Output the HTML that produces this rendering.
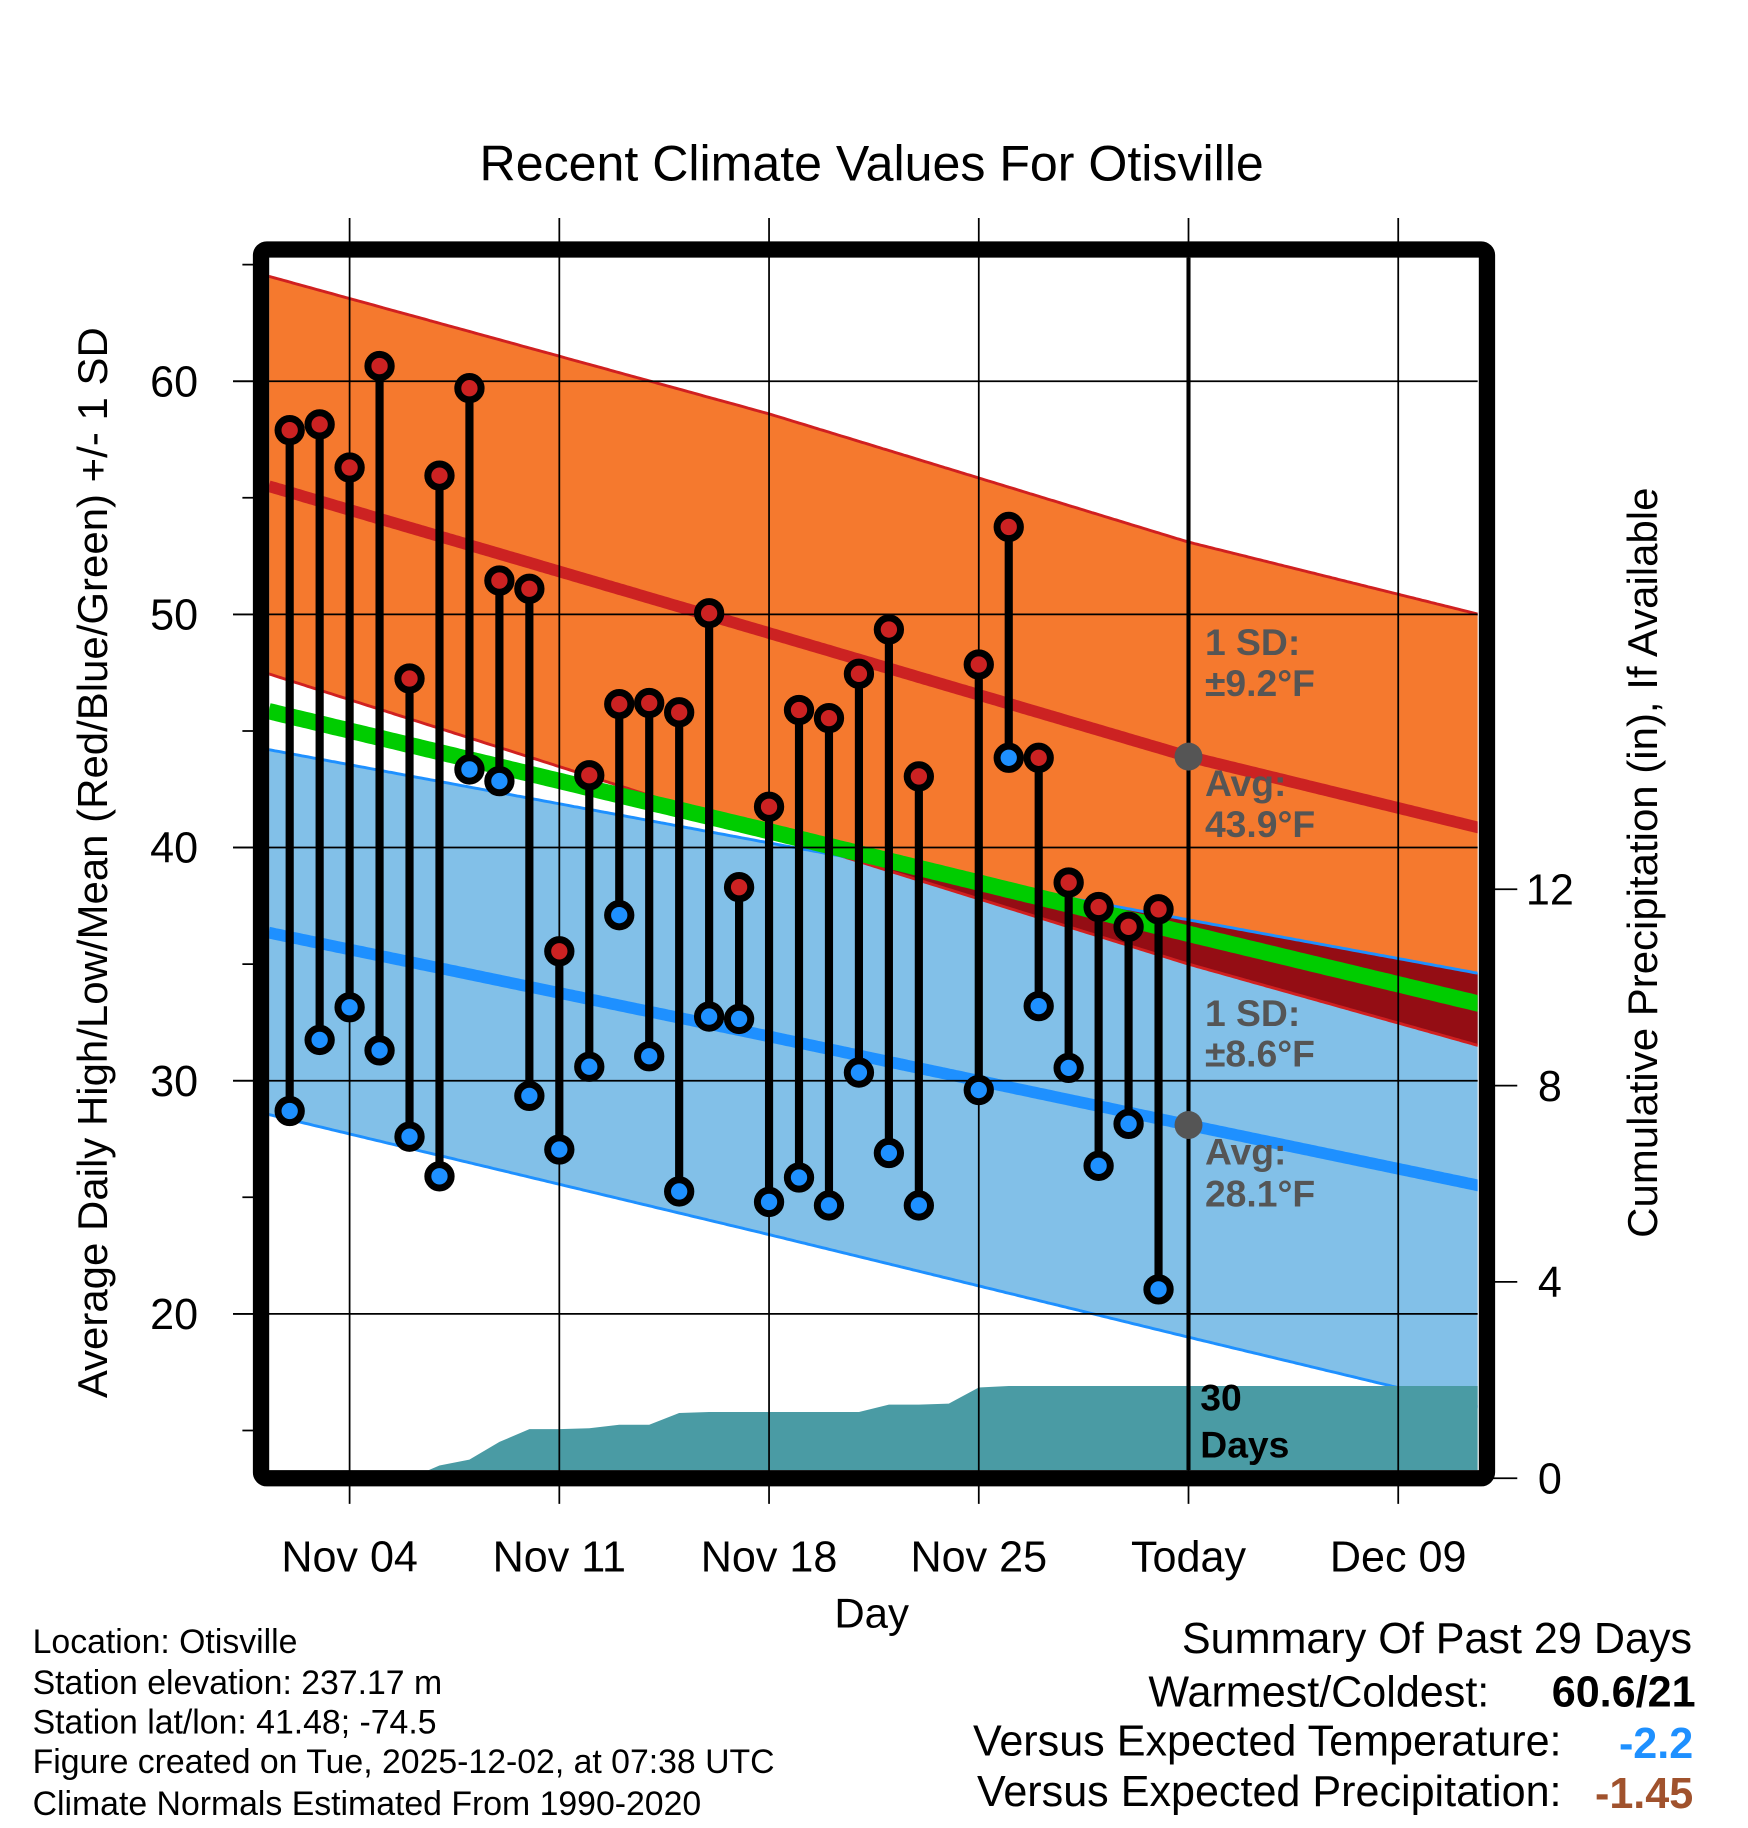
<!DOCTYPE html>
<html><head><meta charset="utf-8"><style>html,body{margin:0;padding:0;background:#fff}svg{display:block}text{font-family:"Liberation Sans",sans-serif}</style></head>
<body>
<svg id="chart" xmlns="http://www.w3.org/2000/svg" width="1748" height="1828" viewBox="0 0 1500 1568" preserveAspectRatio="none">
<defs><clipPath id="pc"><rect x="231" y="221" width="1037" height="1040"/></clipPath></defs>
<text x="748" y="155" font-size="43" text-anchor="middle">Recent Climate Values For Otisville</text>
<g id="plot" clip-path="url(#pc)"></g>
<g id="overlay"></g>
<rect x="224" y="214" width="1052" height="1054" rx="5" fill="none" stroke="#000" stroke-width="14"/>
<g id="axes"></g>
<text transform="translate(92,740) rotate(-90)" font-size="36" text-anchor="middle">Average Daily High/Low/Mean (Red/Blue/Green) +/- 1 SD</text>
<text transform="translate(1422,740) rotate(-90)" font-size="36" text-anchor="middle">Cumulative Precipitation (in), If Available</text>
<text x="748" y="1396" font-size="36" text-anchor="middle">Day</text>
<g font-size="29">
<text x="28" y="1418">Location: Otisville</text>
<text x="28" y="1453">Station elevation: 237.17 m</text>
<text x="28" y="1487">Station lat/lon: 41.48; -74.5</text>
<text x="28" y="1521">Figure created on Tue, 2025-12-02, at 07:38 UTC</text>
<text x="28" y="1557">Climate Normals Estimated From 1990-2020</text>
</g>
<g font-size="37">
<text x="1452" y="1418" text-anchor="end">Summary Of Past 29 Days</text>
<text x="1278" y="1464" text-anchor="end">Warmest/Coldest:</text>
<text x="1455" y="1464" text-anchor="end" font-weight="bold">60.6/21</text>
<text x="1340" y="1506" text-anchor="end">Versus Expected Temperature:</text>
<text x="1453" y="1508" text-anchor="end" font-weight="bold" fill="#1e90ff">-2.2</text>
<text x="1340" y="1549" text-anchor="end">Versus Expected Precipitation:</text>
<text x="1453" y="1551" text-anchor="end" font-weight="bold" fill="#a0522d">-1.45</text>
</g>
</svg>
<script>
const dayLabels=["Nov 04","Nov 11","Nov 18","Nov 25","Today","Dec 09"];
const labelDays=[0,7,14,21,28,35];
const tempTicks=[20,30,40,50,60];
const minorTicks=[15,25,35,45,55,65];
const precipTicks=[0,4,8,12];
const obsDays=[-2,-1,0,1,2,3,4,5,6,7,8,9,10,11,12,13,14,15,16,17,18,19,21,22,23,24,25,26,27];
const highs=[57.9,58.15,56.3,60.65,47.25,55.95,59.7,51.45,51.1,35.55,43.1,46.15,46.2,45.8,50.05,38.3,41.75,45.9,45.55,47.45,49.35,43.05,47.85,53.75,43.85,38.5,37.45,36.6,37.35];
const lows=[28.7,31.75,33.15,31.3,27.6,25.9,43.35,42.85,29.35,27.05,30.6,37.1,31.05,25.25,32.75,32.65,24.8,25.85,24.65,30.35,26.9,24.65,29.6,43.85,33.2,30.55,26.35,28.15,21.05];
const normDays=[-2.7,14,28,37.7];
const highUpper=[64.5,58.6,53.1,50.0];
const highMean=[55.5,49.2,43.9,40.85];
const highLower=[47.45,40.6,35.0,31.5];
const meanT=[45.85,40.7,36.3,33.3];
const lowUpper=[44.2,40.2,36.9,34.6];
const lowMean=[36.35,31.9,28.1,25.5];
const lowLower=[28.55,23.4,19.0,16.0];
const precipDays=[-2.7,-2,-1,0,1,2,3,4,5,6,7,8,9,10,11,12,13,14,15,16,17,18,19,20,21,22,23,24,25,26,27,37.7];
const precip=[0,0,0,0,0,0,0.26,0.38,0.74,1.0,1.0,1.02,1.09,1.09,1.33,1.35,1.35,1.35,1.35,1.35,1.35,1.5,1.5,1.52,1.85,1.88,1.88,1.88,1.88,1.88,1.88,1.88];
const todayDay=28;

const NS="http://www.w3.org/2000/svg";
const X=d=>300+d*25.71;
const Y=v=>1527-20*v;
const YP=p=>1268-42.1*p;
function mk(parent,tag,attrs){const e=document.createElementNS(NS,tag);for(const k in attrs)e.setAttribute(k,attrs[k]);parent.appendChild(e);return e;}
function interp(arr,d){for(let i=0;i<normDays.length-1;i++){if(d<=normDays[i+1]||i==normDays.length-2){const t=(d-normDays[i])/(normDays[i+1]-normDays[i]);return arr[i]+t*(arr[i+1]-arr[i]);}}}
const samp=[];for(let d=-2.7;d<=37.71;d+=0.1)samp.push(d);
const line=arr=>samp.map(d=>X(d).toFixed(1)+","+Y(interp(arr,d)).toFixed(1));
function band(a,b){return line(a).concat(line(b).reverse()).join(" ");}
const plot=document.getElementById('plot');
let e;
e=mk(plot,'polygon',{points:band(highUpper,highLower),fill:'#f5792e'});


e=mk(plot,'polygon',{points:band(lowUpper,lowLower),fill:'#82c0e8'});


const ovTop=[],ovBot=[];
samp.forEach(d=>{const lu=interp(lowUpper,d),hl=interp(highLower,d);const b=Math.min(lu,hl);ovTop.push(X(d).toFixed(1)+","+Y(lu).toFixed(1));ovBot.push(X(d).toFixed(1)+","+Y(b).toFixed(1));});
e=mk(plot,'polygon',{points:ovTop.concat(ovBot.reverse()).join(" "),fill:'#940d14'});


function pl(arr,col,w,name){const p=mk(plot,'polyline',{points:line(arr).join(" "),fill:'none',stroke:col,'stroke-width':w});}
pl(highUpper,'#d02020',2.5,'high-upper-sd-line');
pl(highLower,'#d02020',2.5,'high-lower-sd-line');
pl(lowUpper,'#1e90ff',2.5,'low-upper-sd-line');
pl(lowLower,'#1e90ff',2.5,'low-lower-sd-line');
pl(meanT,'#00cc00',14,'mean-temp-line');
pl(highMean,'#cc2222',10,'avg-high-line');
pl(lowMean,'#1e90ff',10,'avg-low-line');
const pp=precipDays.map((d,i)=>X(d).toFixed(1)+","+YP(precip[i]).toFixed(1));
pp.push(X(37.7)+",1270",X(-2.7)+",1270");
e=mk(plot,'polygon',{points:pp.join(" "),fill:'#4a9ba4'});


const ov=document.getElementById('overlay');
labelDays.forEach(d=>{const g=mk(ov,'line',{x1:X(d),x2:X(d),y1:187,y2:1290,stroke:'#000','stroke-width':1.5});});
tempTicks.forEach(v=>{const g=mk(ov,'line',{x1:200,x2:1268,y1:Y(v),y2:Y(v),stroke:'#000','stroke-width':1.5});});
e=mk(ov,'line',{x1:X(todayDay),x2:X(todayDay),y1:221,y2:1261,stroke:'#000','stroke-width':3.5});


obsDays.forEach((d,i)=>{
 const g=mk(ov,'g',{});
 
 
 mk(g,'line',{x1:X(d),x2:X(d),y1:Y(highs[i]),y2:Y(lows[i]),stroke:'#000','stroke-width':7});
 const c1=mk(g,'circle',{cx:X(d),cy:Y(highs[i]),r:10,fill:'#cc2222',stroke:'#000','stroke-width':6});
 
 
 const c2=mk(g,'circle',{cx:X(d),cy:Y(lows[i]),r:10,fill:'#1e90ff',stroke:'#000','stroke-width':6});
 
 
});
[interp(highMean,todayDay),interp(lowMean,todayDay)].forEach(v=>{const c=mk(ov,'circle',{cx:X(todayDay),cy:Y(v),r:12,fill:'#555'});});
function txt(par,x,y,s,attrs,name){const t=mk(par,'text',Object.assign({x:x,y:y},attrs));t.textContent=s;return t;}
const ann={'font-size':32,'font-weight':'bold',fill:'#555'};
const hm=interp(highMean,todayDay).toFixed(1), lm=interp(lowMean,todayDay).toFixed(1);
txt(ov,1034,562,"1 SD:",ann,'high-sd-label');
txt(ov,1034,597,"±9.2°F",ann,'high-sd-value');
txt(ov,1034,683,"Avg:",ann,'high-avg-label');
txt(ov,1034,718,hm+"°F",ann,'high-avg-value');
txt(ov,1034,880,"1 SD:",ann,'low-sd-label');
txt(ov,1034,915,"±8.6°F",ann,'low-sd-value');
txt(ov,1034,999,"Avg:",ann,'low-avg-label');
txt(ov,1034,1035,lm+"°F",ann,'low-avg-value');
const bk={'font-size':32,'font-weight':'bold',fill:'#000'};
txt(ov,1030,1210,"30",bk,'window-days-number');
txt(ov,1030,1250,"Days",bk,'window-days-label');
const ax=document.getElementById('axes');
tempTicks.forEach(v=>{mk(ax,'line',{x1:200,x2:224,y1:Y(v),y2:Y(v),stroke:'#000','stroke-width':1.5});txt(ax,170,Y(v)+13,String(v),{'font-size':37,'text-anchor':'end'},'y-tick-label');});
minorTicks.forEach(v=>{mk(ax,'line',{x1:208,x2:224,y1:Y(v),y2:Y(v),stroke:'#000','stroke-width':1.5});});
precipTicks.forEach(p=>{mk(ax,'line',{x1:1276,x2:1302,y1:YP(p),y2:YP(p),stroke:'#000','stroke-width':1.5});txt(ax,1330,YP(p)+13,String(p),{'font-size':37,'text-anchor':'middle'},'y2-tick-label');});
labelDays.forEach((d,i)=>{txt(ax,X(d),1348,dayLabels[i],{'font-size':37,'text-anchor':'middle'},'x-tick-label');});
</script>
</body></html>
